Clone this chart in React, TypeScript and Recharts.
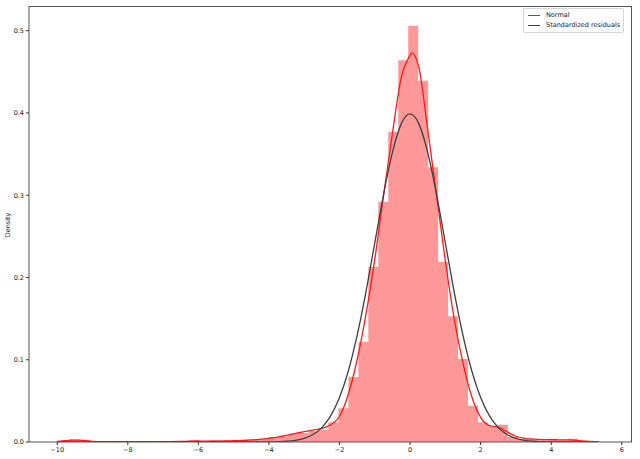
import { ComposedChart, Area, Line, XAxis, YAxis } from "recharts";

// histogram of the standardized residuals (density per bin)
const HIST_START = -9.94;
const HIST_WIDTH = 0.2825;
const HIST_DENSITY = [
  0.0, 0.003, 0.0, 0.0, 0.0, 0.0, 0.0, 0.0, 0.0, 0.0,
  0.0, 0.0, 0.0, 0.002, 0.0, 0.002, 0.002, 0.002, 0.002, 0.003,
  0.004, 0.006, 0.007, 0.01, 0.011, 0.013, 0.015, 0.024, 0.041, 0.079,
  0.122, 0.213, 0.292, 0.377, 0.464, 0.506, 0.439, 0.334, 0.219, 0.153,
  0.101, 0.044, 0.024, 0.019, 0.021, 0.006, 0.004, 0.003, 0.002, 0.004,
  0.002, 0.004, 0.001, 0.001,
];

// kde line (red)
const KDE_X = [
  -10, -9.8, -9.6, -9.4, -9.2, -9.0, -8.7, -8.4, -8, -7.5, -7, -6.5,
  -6.2, -6, -5.8, -5.5, -5.2, -5, -4.75, -4.5, -4.25, -4, -3.75, -3.5,
  -3.25, -3, -2.75, -2.5, -2.25, -2, -1.75, -1.5, -1.25, -1, -0.75, -0.5,
  -0.25, 0, 0.05, 0.25, 0.5, 0.75, 1, 1.25, 1.5, 1.75, 2, 2.25,
  2.5, 2.75, 3, 3.25, 3.5, 3.75, 4, 4.25, 4.5, 4.75, 5, 5.35,
];
const KDE_Y = [
  0.0008, 0.0015, 0.0022, 0.0022, 0.0016, 0.0008, 0.0003, 0.0002, 0.0002, 0.0002, 0.0003, 0.0006,
  0.001, 0.0012, 0.001, 0.0011, 0.0012, 0.0015, 0.002, 0.0025, 0.0033, 0.0045, 0.006, 0.008,
  0.0105, 0.0125, 0.0145, 0.0165, 0.021, 0.031, 0.058, 0.1, 0.155, 0.222, 0.3, 0.375,
  0.443, 0.47, 0.473, 0.455, 0.38, 0.3, 0.22, 0.15, 0.096, 0.055, 0.03, 0.02,
  0.018, 0.0125, 0.007, 0.0045, 0.0035, 0.003, 0.003, 0.0025, 0.0025, 0.002, 0.001, 0.0002,
];

// fitted normal (dark grey)
const NORMAL_X = [
  -10, -6, -5, -4.5, -4, -3.75, -3.5, -3.25, -3, -2.75, -2.5, -2.25, -2, -1.75,
  -1.5, -1.25, -1, -0.75, -0.5, -0.25, -0.125, 0, 0.125, 0.25, 0.5, 0.75, 1,
  1.25, 1.5, 1.75, 2, 2.25, 2.5, 2.75, 3, 3.25, 3.5, 3.75, 4, 4.5, 5, 5.35,
];
const NORMAL_Y = [
  0, 0, 0, 0, 0.0001, 0.0004, 0.0009, 0.002, 0.0044, 0.0091, 0.0175, 0.0317, 0.054, 0.0863,
  0.1295, 0.1826, 0.242, 0.3011, 0.3521, 0.3867, 0.3958, 0.3989, 0.3958, 0.3867, 0.3521, 0.3011, 0.242,
  0.1826, 0.1295, 0.0863, 0.054, 0.0317, 0.0175, 0.0091, 0.0044, 0.002, 0.0009, 0.0004, 0.0001, 0, 0, 0,
];

const X_TICKS = [-10, -8, -6, -4, -2, 0, 2, 4, 6];
const Y_TICKS = [0, 0.1, 0.2, 0.3, 0.4, 0.5];

const LEGEND_LABELS = ["Normal", "Standardized residuals"];
const LEGEND_COLORS = ["#ff1a1a", "#3f3f3f"];

const FONT = "'DejaVu Sans', sans-serif";
const TICK = { fontSize: 6.5, fill: "#222", fontFamily: FONT };
const FRAME = "#555";

export default function App() {
  const hist = HIST_DENSITY.map((d, i) => ({ x: HIST_START + i * HIST_WIDTH, y: d }));
  hist.push({ x: HIST_START + HIST_DENSITY.length * HIST_WIDTH, y: 0 });
  const kde = KDE_X.map((x, i) => ({ x, y: KDE_Y[i] }));
  const normal = NORMAL_X.map((x, i) => ({ x, y: NORMAL_Y[i] }));

  return (
    <div style={{ position: "absolute", left: 0, top: 0, width: 640, height: 459, background: "#fff" }}>
      <ComposedChart width={640} height={459} margin={{ top: 6, right: 8, bottom: 0, left: 0 }}>
        <XAxis
          type="number"
          dataKey="x"
          domain={[-10.8, 6.29]}
          ticks={X_TICKS}
          allowDataOverflow
          height={17}
          tick={TICK}
          tickSize={3}
          tickLine={{ stroke: "#333" }}
          axisLine={{ stroke: FRAME }}
          tickFormatter={(v: number) => String(v).replace("-", "\u2212")}
        />
        <YAxis
          type="number"
          domain={[0, 0.53]}
          ticks={Y_TICKS}
          allowDataOverflow
          width={29}
          tick={TICK}
          tickSize={3}
          tickLine={{ stroke: "#333" }}
          axisLine={{ stroke: FRAME }}
          tickFormatter={(v: number) => v.toFixed(1)}
        />
        <Area
          data={hist}
          dataKey="y"
          type="stepAfter"
          stroke="none"
          fill="#ff9999"
          fillOpacity={1}
          isAnimationActive={false}
        />
        <Line data={kde} dataKey="y" name="Normal" type="monotone" stroke={LEGEND_COLORS[0]} strokeWidth={1.3} dot={false} isAnimationActive={false} />
        <Line data={normal} dataKey="y" name="Standardized residuals" type="monotone" stroke={LEGEND_COLORS[1]} strokeWidth={1.3} dot={false} isAnimationActive={false} />
      </ComposedChart>

      {/* axes frame (top + right spines) */}
      <div
        style={{
          position: "absolute",
          left: 29,
          top: 6,
          width: 603,
          height: 436,
          borderTop: `1px solid ${FRAME}`,
          borderRight: `1px solid ${FRAME}`,
          boxSizing: "border-box",
          pointerEvents: "none",
        }}
      />

      {/* legend */}
      <div
        style={{
          position: "absolute",
          left: 523,
          top: 8,
          width: 101,
          border: "1px solid #d6d6d6",
          borderRadius: 2,
          background: "rgba(255,255,255,0.85)",
          padding: "2px 0 2px 4px",
          boxSizing: "border-box",
          fontFamily: FONT,
          fontSize: 6.5,
          color: "#222",
          lineHeight: "9.5px",
          whiteSpace: "nowrap",
        }}
      >
        {LEGEND_LABELS.map((label, i) => (
          <div key={label} style={{ display: "flex", alignItems: "center" }}>
            <span style={{ display: "inline-block", width: 12, height: 1.4, background: LEGEND_COLORS[i], marginRight: 6 }} />
            <span>{label}</span>
          </div>
        ))}
      </div>

      <div
        style={{
          position: "absolute",
          left: 8,
          top: 225,
          transform: "translate(-50%, -50%) rotate(-90deg)",
          fontFamily: FONT,
          fontSize: 6.5,
          color: "#222",
          whiteSpace: "nowrap",
        }}
      >
        Density
      </div>
    </div>
  );
}
